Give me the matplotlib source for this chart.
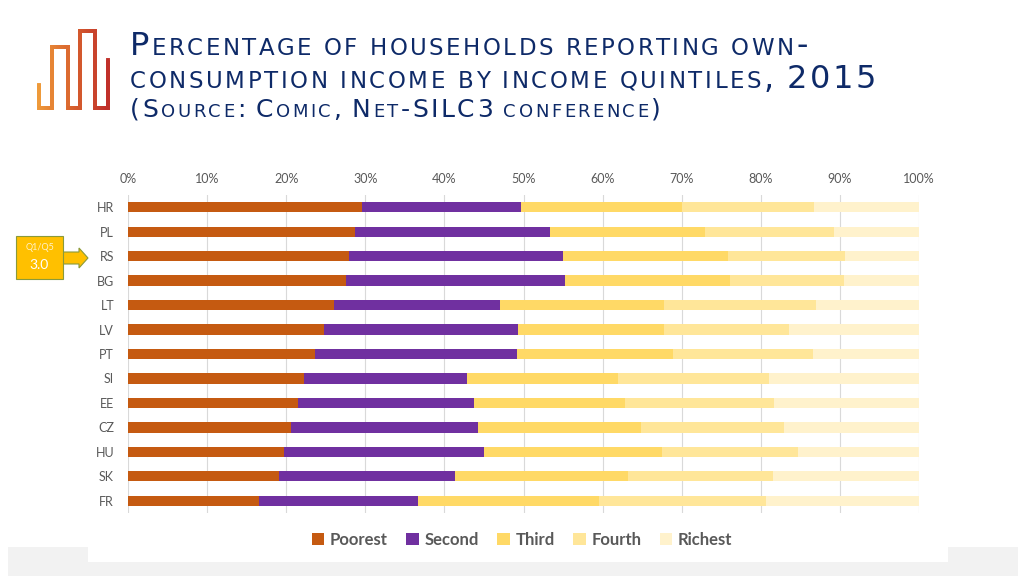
import numpy as np
import matplotlib
matplotlib.use('Agg')
import matplotlib.pyplot as plt
from matplotlib.collections import LineCollection
from matplotlib.patches import Rectangle, Polygon
from matplotlib.colors import LinearSegmentedColormap

# data (cumulative shares, in %)
paises = ['HR', 'PL', 'RS', 'BG', 'LT', 'LV', 'PT', 'SI', 'EE', 'CZ', 'HU', 'SK', 'FR']
cum_poorest = [29.6, 28.7, 27.9, 27.5, 26.1, 24.8, 23.6, 22.3, 21.5, 20.6, 19.7, 19.1, 16.5]
cum_second = [49.7, 53.4, 55.0, 55.3, 47.0, 49.3, 49.2, 42.8, 43.8, 44.2, 45.0, 41.3, 36.7]
cum_third = [70.0, 73.0, 75.8, 76.1, 67.8, 67.7, 68.9, 62.0, 62.8, 64.9, 67.5, 63.2, 59.6]
cum_fourth = [86.7, 89.2, 90.7, 90.5, 87.0, 83.6, 86.6, 81.0, 81.7, 82.9, 84.7, 81.5, 80.7]
cum_richest = [100.0] * 13
quintis = ['Poorest', 'Second', 'Third', 'Fourth', 'Richest']
cores = ['#C55A11', '#7030A0', '#FFD966', '#FFE699', '#FFF2CC']

W, H = 1024, 576
fig = plt.figure(figsize=(W / 100, H / 100), dpi=100)

# overlay in pixel coordinates for decorations
fundo = fig.add_axes([0, 0, 1, 1], zorder=0)
fundo.set_xlim(0, W)
fundo.set_ylim(H, 0)
fundo.axis('off')
fundo.add_patch(Rectangle((8, 547), 1010, 29, color='#F2F2F2', lw=0))
fundo.add_patch(Rectangle((88, 547), 860, 15, color='white', lw=0))

# logo
pts = np.array([(39, 85), (39, 108), (52, 108), (52, 47), (68, 47), (68, 108),
                (80, 108), (80, 31), (95, 31), (95, 108), (108, 108), (108, 60)], float)
segs = []
for a, b in zip(pts[:-1], pts[1:]):
    n = 20
    for t in range(n):
        segs.append([a + (b - a) * t / n, a + (b - a) * (t + 1) / n])
xs = np.array([(s[0][0] + s[1][0]) / 2 for s in segs])
cmap = LinearSegmentedColormap.from_list('logo', ['#EE9A3A', '#D8622E', '#C0302A'])
lc = LineCollection(segs, colors=cmap((xs - 39) / 69), linewidths=2.8, capstyle='projecting')
fundo.add_collection(lc)

# small caps title
rend = fig.canvas.get_renderer()
azul = '#0E2A68'


def largura(txt, size):
    t = fundo.text(0, 0, txt, fontsize=size, family='DejaVu Sans')
    w = t.get_window_extent(rend).width
    t.remove()
    return w


def versalete(x, y, frase, big, small, track):
    sp = largura('x x', small) - largura('xx', small)
    for ch in frase:
        if ch == ' ':
            x += sp + track
            continue
        size = small if ch.islower() else big
        c = ch.upper()
        fundo.text(x, y, c, fontsize=size, family='DejaVu Sans', color=azul, va='baseline')
        x += largura(c, size) + track


versalete(130, 55, 'Percentage of households reporting own-', 23, 16.5, 2.5)
versalete(130, 88, 'consumption income by income quintiles, 2015', 23, 16.5, 2.6)
versalete(130, 117, '(Source: Comic, Net-SILC3 conference)', 18, 13, 2.5)

# Q1/Q5 box and arrow
fundo.add_patch(Polygon([(63, 252), (79, 252), (79, 248), (88, 258), (79, 268), (79, 264), (63, 264)],
                        closed=True, fc='#FFC000', ec='#8A9A3A', lw=0.8))
fundo.add_patch(Rectangle((16, 236), 47, 43, fc='#FFC000', ec='#8A9A3A', lw=0.8))
fundo.text(39.5, 248, 'Q1/Q5', fontsize=6.5, color='#FFF2CC', ha='center', va='center', family='Lato')
fundo.text(39.5, 265, '3.0', fontsize=10, color='white', ha='center', va='center', family='Lato')

# chart
ax = fig.add_axes([128 / W, 1 - 513 / H, (919 - 128) / W, (513 - 195) / H], zorder=1)
ax.set_facecolor('none')
cums = [cum_poorest, cum_second, cum_third, cum_fourth, cum_richest]
y = np.arange(len(paises))
base = np.zeros(len(paises))
barras = []
for nome, cum, cor in zip(quintis, cums, cores):
    cum = np.array(cum)
    b = ax.barh(y, cum - base, left=base, height=0.42, color=cor, label=nome, zorder=2)
    barras.append(b)
    base = cum

ax.set_xlim(0, 100)
ax.set_ylim(len(paises) - 0.5, -0.5)
ax.set_yticks(y)
ax.set_yticklabels(paises)
ax.set_xticks(np.arange(0, 101, 10))
ax.set_xticklabels(['%d%%' % v for v in range(0, 101, 10)])
ax.xaxis.tick_top()
ax.tick_params(axis='both', length=0, labelsize=9, labelcolor='#595959')
ax.tick_params(axis='x', pad=7)
ax.tick_params(axis='y', pad=10)
for lab in ax.get_xticklabels() + ax.get_yticklabels():
    lab.set_family('Lato')
ax.grid(axis='x', color='#D9D9D9', lw=0.8, zorder=0)
for s in ax.spines.values():
    s.set_visible(False)

fig.legend(barras, quintis, loc='center', bbox_to_anchor=(522 / W, 1 - 540 / H), ncol=5,
           frameon=False, handlelength=0.75, handleheight=0.75, handletextpad=0.35,
           columnspacing=1.1, prop={'family': 'Lato', 'weight': 'bold', 'size': 12},
           labelcolor='#595959')

fig.savefig('out.png', dpi=100)
